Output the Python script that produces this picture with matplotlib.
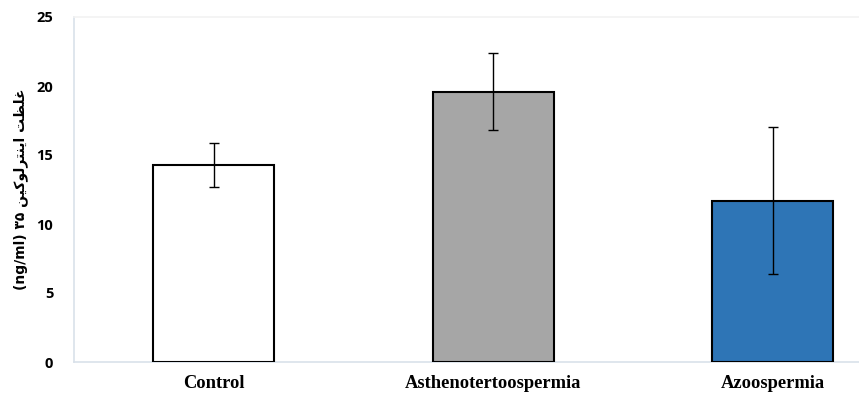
import matplotlib.pyplot as plt

groups = ['Control', 'Asthenotertoospermia', 'Azoospermia']
means = [14.3, 19.6, 11.7]
errors = [1.6, 2.8, 5.3]
colors = ['#ffffff', '#a6a6a6', '#2e75b6']

# y label in visual (left-to-right) order, with Arabic presentation forms
word1 = '\uFE96\uFEC8\uFEE0\uFECF'
word2 = '\uFEE6\uFBFF\uFB90\uFEEE\uFEDF\uFEAE\uFE98\uFEE8\uFBFE\uFE8D'
ylabel = '(ng/ml) \u06F3\u06F5 ' + word2 + ' ' + word1

fig = plt.figure(figsize=(8.59, 3.94), dpi=100)
ax = fig.add_axes([74 / 859, 32 / 394, 785 / 859, 345 / 394])

x = range(len(groups))
ax.bar(x, means, width=0.433, color=colors, edgecolor='black', linewidth=1.5, zorder=3,
       yerr=errors, error_kw=dict(ecolor='black', elinewidth=1, capsize=3.5, capthick=1, zorder=4))

ax.set_xlim(-0.5, 2.308)
ax.set_ylim(0, 25)
ax.set_yticks([0, 5, 10, 15, 20, 25])
ax.set_xticks(list(x))
ax.set_xticklabels(groups, fontfamily='Liberation Serif', fontweight='bold', fontsize=13.3)
ax.tick_params(axis='both', length=0)
ax.tick_params(axis='y', pad=15)
ax.tick_params(axis='x', pad=9)
for lab in ax.get_yticklabels():
    lab.set_fontfamily('Open Sans')
    lab.set_fontweight('bold')
    lab.set_fontsize(10.5)

ax.set_ylabel(ylabel, family=['DejaVu Sans'], fontsize=10, fontweight='bold')
ax.yaxis.set_label_coords(-0.058, 0.5)

ax.spines['left'].set_color('#d9e1ea')
ax.spines['bottom'].set_color('#d9e1ea')
ax.spines['top'].set_color('#f2f2f2')
ax.spines['right'].set_visible(False)
for s in ax.spines.values():
    s.set_linewidth(1.2)

fig.savefig('out.png', dpi=100)
